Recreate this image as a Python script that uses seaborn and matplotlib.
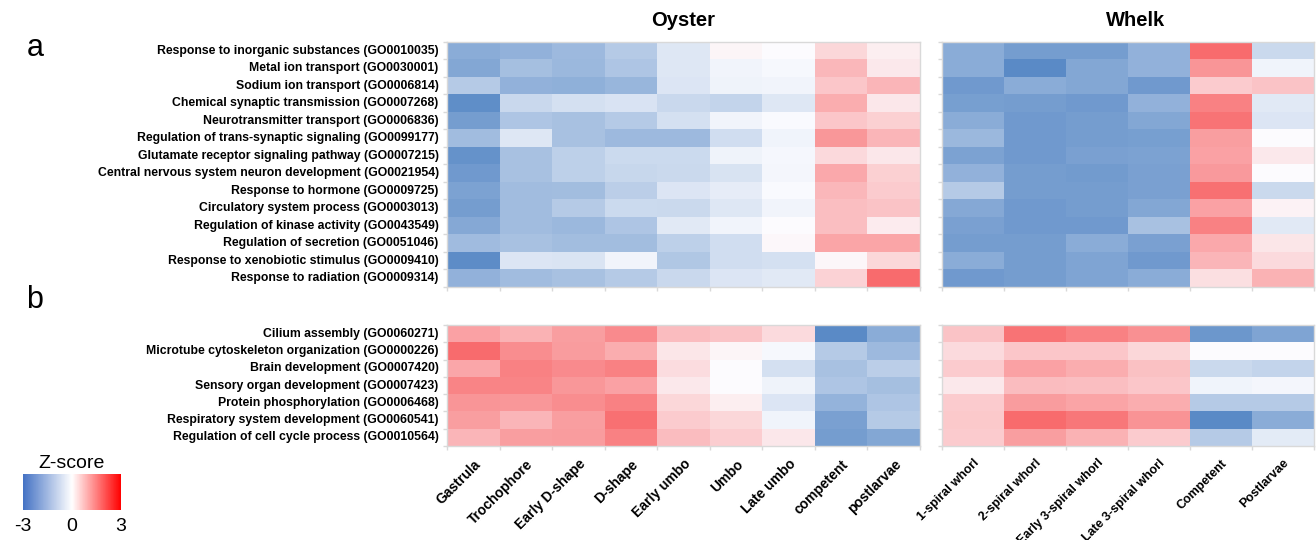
import numpy as np
import pandas as pd
import seaborn as sns
import matplotlib.pyplot as plt
from matplotlib.colors import LinearSegmentedColormap
from matplotlib.ticker import FixedLocator

# 行标签（上半部分 a）
terms_a = ['Response to inorganic substances (GO0010035)',
           'Metal ion transport (GO0030001)',
           'Sodium ion transport (GO0006814)',
           'Chemical synaptic transmission (GO0007268)',
           'Neurotransmitter transport (GO0006836)',
           'Regulation of trans-synaptic signaling (GO0099177)',
           'Glutamate receptor signaling pathway (GO0007215)',
           'Central nervous system neuron development (GO0021954)',
           'Response to hormone (GO0009725)',
           'Circulatory system process (GO0003013)',
           'Regulation of kinase activity (GO0043549)',
           'Regulation of secretion (GO0051046)',
           'Response to xenobiotic stimulus (GO0009410)',
           'Response to radiation (GO0009314)']
# 行标签（下半部分 b）
terms_b = ['Cilium assembly (GO0060271)',
           'Microtube cytoskeleton organization (GO0000226)',
           'Brain development (GO0007420)',
           'Sensory organ development (GO0007423)',
           'Protein phosphorylation (GO0006468)',
           'Respiratory system development (GO0060541)',
           'Regulation of cell cycle process (GO0010564)']

oyster_stages = ['Gastrula', 'Trochophore', 'Early D-shape', 'D-shape', 'Early umbo',
                 'Umbo', 'Late umbo', 'competent', 'postlarvae']
whelk_stages = ['1-spiral whorl', '2-spiral whorl', 'Early 3-spiral whorl',
                'Late 3-spiral whorl', 'Competent', 'Postlarvae']

oyster_a = [
    [-2.1, -1.95, -1.75, -1.3, -0.55, 0.15, 0.0, 0.75, 0.3],
    [-2.25, -1.6, -1.8, -1.45, -0.55, -0.2, -0.1, 1.4, 0.4],
    [-1.3, -1.95, -2.0, -1.85, -0.6, -0.25, -0.2, 1.1, 1.45],
    [-2.9, -0.95, -0.75, -0.65, -0.95, -1.05, -0.55, 1.6, 0.43],
    [-2.5, -1.45, -1.57, -1.3, -0.75, -0.2, -0.05, 1.08, 0.9],
    [-1.67, -0.55, -1.57, -1.75, -1.75, -0.8, -0.22, 2.06, 1.45],
    [-2.78, -1.55, -1.15, -0.9, -0.9, -0.25, -0.12, 0.71, 0.43],
    [-2.6, -1.55, -1.15, -0.97, -0.93, -0.67, -0.15, 1.7, 0.9],
    [-2.35, -1.67, -1.65, -1.2, -0.6, -0.4, -0.05, 1.4, 1.0],
    [-2.5, -1.67, -1.3, -0.9, -0.93, -0.55, -0.2, 1.25, 1.15],
    [-2.2, -1.67, -1.8, -1.45, -0.5, -0.2, 0.0, 1.25, 0.35],
    [-1.7, -1.57, -1.65, -1.65, -1.15, -0.8, 0.1, 1.78, 1.78],
    [-2.95, -0.6, -0.62, -0.2, -1.4, -0.8, -0.75, 0.12, 0.75],
    [-1.95, -1.67, -1.55, -1.3, -0.95, -0.6, -0.5, 0.85, 2.95]]
whelk_a = [
    [-2.1, -2.5, -2.5, -1.95, 2.95, -0.93],
    [-2.1, -3.0, -2.25, -1.95, 2.1, -0.22],
    [-2.6, -2.1, -2.25, -2.6, 1.0, 1.15],
    [-2.45, -2.5, -2.6, -1.95, 2.5, -0.5],
    [-2.1, -2.6, -2.5, -2.25, 2.77, -0.6],
    [-1.8, -2.6, -2.5, -2.45, 1.9, 0.02],
    [-2.35, -2.6, -2.4, -2.35, 1.85, 0.4],
    [-1.95, -2.5, -2.55, -2.4, 2.0, 0.0],
    [-1.3, -2.5, -2.5, -2.4, 2.85, -0.93],
    [-2.2, -2.6, -2.5, -2.25, 1.85, 0.2],
    [-2.4, -2.6, -2.6, -1.55, 2.5, -0.5],
    [-2.5, -2.5, -2.1, -2.4, 1.7, 0.45],
    [-2.1, -2.5, -2.3, -2.6, 1.45, 0.7],
    [-2.6, -2.5, -2.3, -2.1, 0.6, 1.5]]
oyster_b = [
    [1.85, 1.5, 1.9, 2.3, 1.3, 1.15, 0.7, -3.0, -2.1],
    [2.95, 2.25, 1.95, 1.6, 0.45, 0.15, -0.1, -1.3, -1.75],
    [1.75, 2.5, 2.3, 2.5, 0.65, 0.0, -0.75, -1.57, -1.2],
    [2.45, 2.45, 2.05, 1.85, 0.4, 0.0, -0.25, -1.45, -1.6],
    [2.1, 2.05, 2.25, 2.5, 0.75, 0.3, -0.6, -1.9, -1.45],
    [1.9, 1.45, 1.9, 2.85, 1.0, 0.75, -0.22, -2.4, -1.3],
    [1.45, 1.9, 1.95, 2.5, 1.3, 0.95, 0.43, -2.5, -2.25]]
whelk_b = [
    [1.15, 2.77, 2.5, 2.2, -2.65, -2.3],
    [0.7, 1.1, 1.1, 0.75, 0.0, 0.0],
    [1.0, 1.85, 1.6, 1.2, -0.93, -1.05],
    [0.42, 1.3, 1.25, 1.1, -0.22, -0.15],
    [1.0, 1.95, 1.8, 1.6, -1.3, -1.3],
    [1.05, 2.95, 2.7, 2.15, -3.0, -2.1],
    [1.0, 1.9, 1.5, 1.0, -1.3, -0.45]]

plt.rcParams['font.family'] = ['Liberation Sans', 'DejaVu Sans']

cell_cmap = LinearSegmentedColormap.from_list('bwr_xl', ['#5A8AC6', '#FCFCFF', '#F8696B'])
bar_cmap = LinearSegmentedColormap.from_list('bwr_bar', ['#4472C4', '#FFFFFF', '#FF0000'])

fig = plt.figure(figsize=(13.16, 5.4), dpi=100)

W, H = 1316, 540
def box(x0, y0, x1, y1):
    return [x0 / W, 1 - y1 / H, (x1 - x0) / W, (y1 - y0) / H]

ax_oa = fig.add_axes(box(447, 42, 920, 287))
ax_wa = fig.add_axes(box(942, 42, 1314, 287))
ax_ob = fig.add_axes(box(447, 325, 920, 446))
ax_wb = fig.add_axes(box(942, 325, 1314, 446))

# (轴, 数据, 行, 列, 显示y标签, 显示x标签, x标签字号)
panels = [
    (ax_oa, oyster_a, terms_a, oyster_stages, True, False, 10),
    (ax_wa, whelk_a, terms_a, whelk_stages, False, False, 9),
    (ax_ob, oyster_b, terms_b, oyster_stages, True, True, 10),
    (ax_wb, whelk_b, terms_b, whelk_stages, False, True, 9),
]
for ax, vals, rows, cols, show_y, show_x, xfs in panels:
    df = pd.DataFrame(vals, index=rows, columns=cols)
    sns.heatmap(df, ax=ax, cmap=cell_cmap, vmin=-3, vmax=3, cbar=False,
                xticklabels=show_x, yticklabels=show_y)
    ax.set_xlabel('')
    ax.set_ylabel('')
    for s in ax.spines.values():
        s.set_visible(True)
        s.set_color('#D9D9D9')
        s.set_linewidth(1)
    ax.tick_params(which='major', length=0)
    ax.xaxis.set_minor_locator(FixedLocator(np.arange(len(cols) + 1)))
    ax.yaxis.set_minor_locator(FixedLocator(np.arange(len(rows) + 1)))
    ax.tick_params(which='minor', length=3, color='#D9D9D9', width=1)
    if show_y:
        ax.set_yticklabels(rows, fontsize=8.8, fontweight='bold', rotation=0)
        ax.tick_params(axis='y', which='major', pad=6)
    if show_x:
        ax.set_xticklabels(cols, fontsize=xfs, fontweight='bold', rotation=45,
                           ha='right', rotation_mode='anchor')
        ax.tick_params(axis='x', which='major', pad=8)

fig.text(683 / W, 1 - 20 / H, 'Oyster', ha='center', va='center', fontsize=14.5, fontweight='bold')
fig.text(1136 / W, 1 - 20 / H, 'Whelk', ha='center', va='center', fontsize=14.5, fontweight='bold')
fig.text(35 / W, 1 - 48 / H, 'a', ha='center', va='center', fontsize=22)
fig.text(35 / W, 1 - 300 / H, 'b', ha='center', va='center', fontsize=22)

# 色标
cax = fig.add_axes(box(23, 474, 121, 510))
sm = plt.cm.ScalarMappable(cmap=bar_cmap, norm=plt.Normalize(-3, 3))
cb = fig.colorbar(sm, cax=cax, orientation='horizontal', ticks=[-3, 0, 3])
cb.outline.set_visible(False)
cb.ax.tick_params(length=0, labelsize=14, pad=6)
cb.ax.set_xticklabels(['-3', '0', '3'])
cax.set_title('Z-score', fontsize=14, pad=4)

fig.savefig('out.png', dpi=100)
